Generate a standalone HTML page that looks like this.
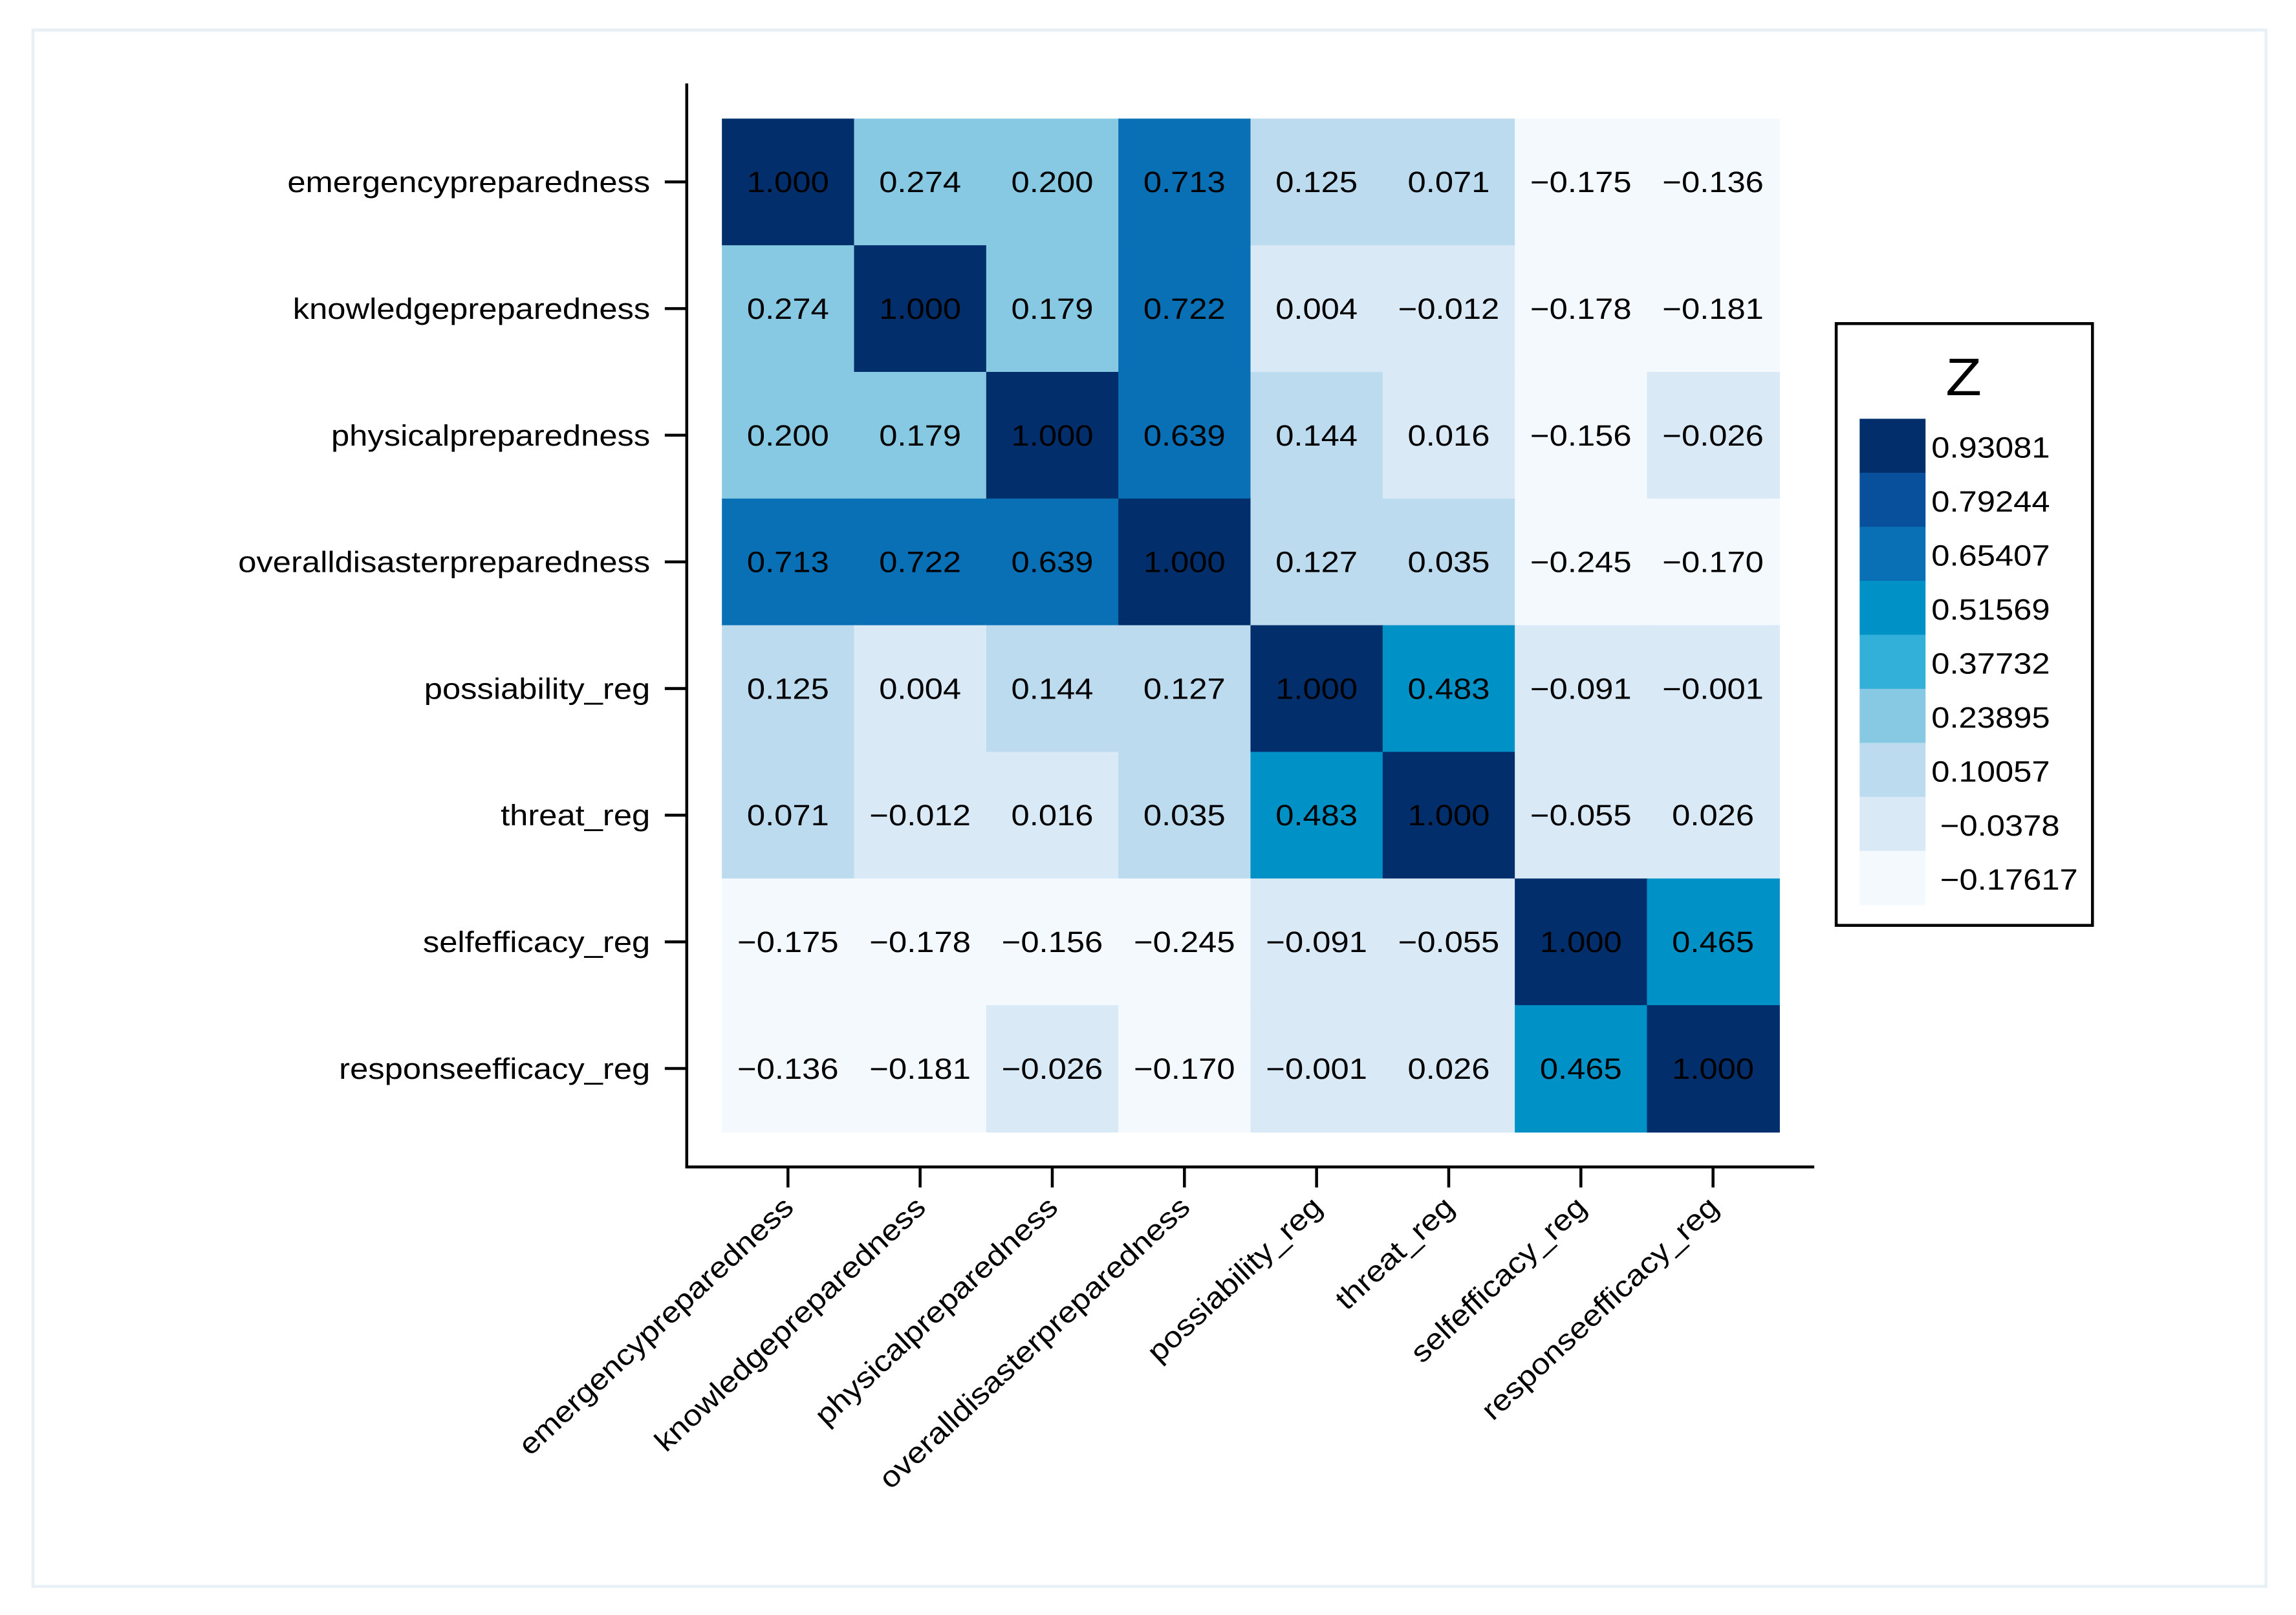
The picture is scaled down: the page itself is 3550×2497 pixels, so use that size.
<!DOCTYPE html>
<html><head><meta charset="utf-8">
<style>
html,body{margin:0;padding:0;background:#fff;}
svg{display:block;font-family:"Liberation Sans",Arial,sans-serif;}
</style></head>
<body>
<svg id="chart" width="3550" height="2497" viewBox="0 0 1568 1103" preserveAspectRatio="none" xmlns="http://www.w3.org/2000/svg">
<rect x="22.5" y="20.5" width="1525" height="1063" fill="#fff" stroke="#e6f0f5" stroke-width="2"/>
<g id="cells"></g>
<g id="axes"></g>
<g id="legend"></g>
</svg>
<script>
const labels = ["emergencypreparedness","knowledgepreparedness","physicalpreparedness","overalldisasterpreparedness","possiability_reg","threat_reg","selfefficacy_reg","responseefficacy_reg"];
const row0 = [1.000,0.274,0.200,0.713,0.125,0.071,-0.175,-0.136];
const row1 = [0.274,1.000,0.179,0.722,0.004,-0.012,-0.178,-0.181];
const row2 = [0.200,0.179,1.000,0.639,0.144,0.016,-0.156,-0.026];
const row3 = [0.713,0.722,0.639,1.000,0.127,0.035,-0.245,-0.170];
const row4 = [0.125,0.004,0.144,0.127,1.000,0.483,-0.091,-0.001];
const row5 = [0.071,-0.012,0.016,0.035,0.483,1.000,-0.055,0.026];
const row6 = [-0.175,-0.178,-0.156,-0.245,-0.091,-0.055,1.000,0.465];
const row7 = [-0.136,-0.181,-0.026,-0.170,-0.001,0.026,0.465,1.000];
const legendLabels = ["0.93081","0.79244","0.65407","0.51569","0.37732","0.23895","0.10057","\u22120.0378","\u22120.17617"];
const palette = ["#022e6b","#084f9c","#0970b6","#0092c6","#33b0d9","#87c9e2","#bddbef","#dae9f6","#f4f9fe"];

const rows=[row0,row1,row2,row3,row4,row5,row6,row7];
const NS="http://www.w3.org/2000/svg";
const SX=1.12;
const x0=493,x1=1215,y0=81,y1=773;
const n=labels.length;
const cw=(x1-x0)/n, ch=(y1-y0)/n;
const xPos=i=>x0+i*cw, yPos=j=>y0+j*ch;
let vmin=Infinity,vmax=-Infinity;
rows.forEach(r=>r.forEach(v=>{vmin=Math.min(vmin,v);vmax=Math.max(vmax,v);}));
function colorOf(v){
  let b=Math.floor((v-vmin)/(vmax-vmin)*palette.length);
  if(b>=palette.length)b=palette.length-1;if(b<0)b=0;
  return palette[palette.length-1-b];
}
function fmt(v){const s=Math.abs(v).toFixed(3);return (v<0?"\u2212":"")+s;}
function mk(tag,attrs,parent){const e=document.createElementNS(NS,tag);for(const k in attrs)e.setAttribute(k,attrs[k]);parent.appendChild(e);return e;}
const cells=document.getElementById('cells');
rows.forEach((r,j)=>r.forEach((v,i)=>{
  const rc=mk('rect',{x:xPos(i),y:yPos(j),width:cw+0.5,height:ch+0.5,fill:colorOf(v)},cells);
  
  
  const t=mk('text',{x:0,y:0,'text-anchor':'middle','font-size':20,fill:'#000',transform:`translate(${xPos(i)+cw/2} ${yPos(j)+ch/2+7}) scale(${SX} 1)`},cells);
  
  
  t.textContent=fmt(v);
}));
const ax=document.getElementById('axes');
const ya=mk('line',{x1:469,y1:57,x2:469,y2:797,stroke:'#000','stroke-width':2},ax);


const xa=mk('line',{x1:468,y1:797,x2:1239,y2:797,stroke:'#000','stroke-width':2},ax);


labels.forEach((l,j)=>{
  const cy=yPos(j)+ch/2;
  mk('line',{x1:454,y1:cy,x2:469,y2:cy,stroke:'#000','stroke-width':2},ax);
  const t=mk('text',{x:0,y:0,'text-anchor':'end','font-size':20,fill:'#000',transform:`translate(444 ${cy+7}) scale(${SX} 1)`},ax);
  
  
  t.textContent=l;
});
labels.forEach((l,i)=>{
  const cx=xPos(i)+cw/2;
  mk('line',{x1:cx,y1:797,x2:cx,y2:811,stroke:'#000','stroke-width':2},ax);
  const t=mk('text',{x:0,y:0,'text-anchor':'end','font-size':20,fill:'#000',transform:`translate(${cx+5} 826) rotate(-43) scale(${SX} 1)`},ax);
  
  
  t.textContent=l;
});
const lg=document.getElementById('legend');
const box=mk('rect',{x:1254,y:221,width:175,height:411,fill:'#fff',stroke:'#000','stroke-width':2},lg);


const zt=mk('text',{x:0,y:0,'text-anchor':'middle','font-size':36,fill:'#000',transform:`translate(1341 270) scale(${SX} 1)`},lg);


zt.textContent='Z';
const bh=(618-286)/palette.length;
palette.forEach((c,k)=>{
  const r=mk('rect',{x:1270,y:286+k*bh,width:45,height:bh+0.3,fill:c},lg);
  
  
  const neg=legendLabels[k].startsWith('\u2212');
  const t=mk('text',{x:0,y:0,'font-size':20,fill:'#000',transform:`translate(${neg?1325:1319} ${286+k*bh+bh/2+8}) scale(${SX} 1)`},lg);
  
  
  t.textContent=legendLabels[k];
});
</script>
</body></html>
